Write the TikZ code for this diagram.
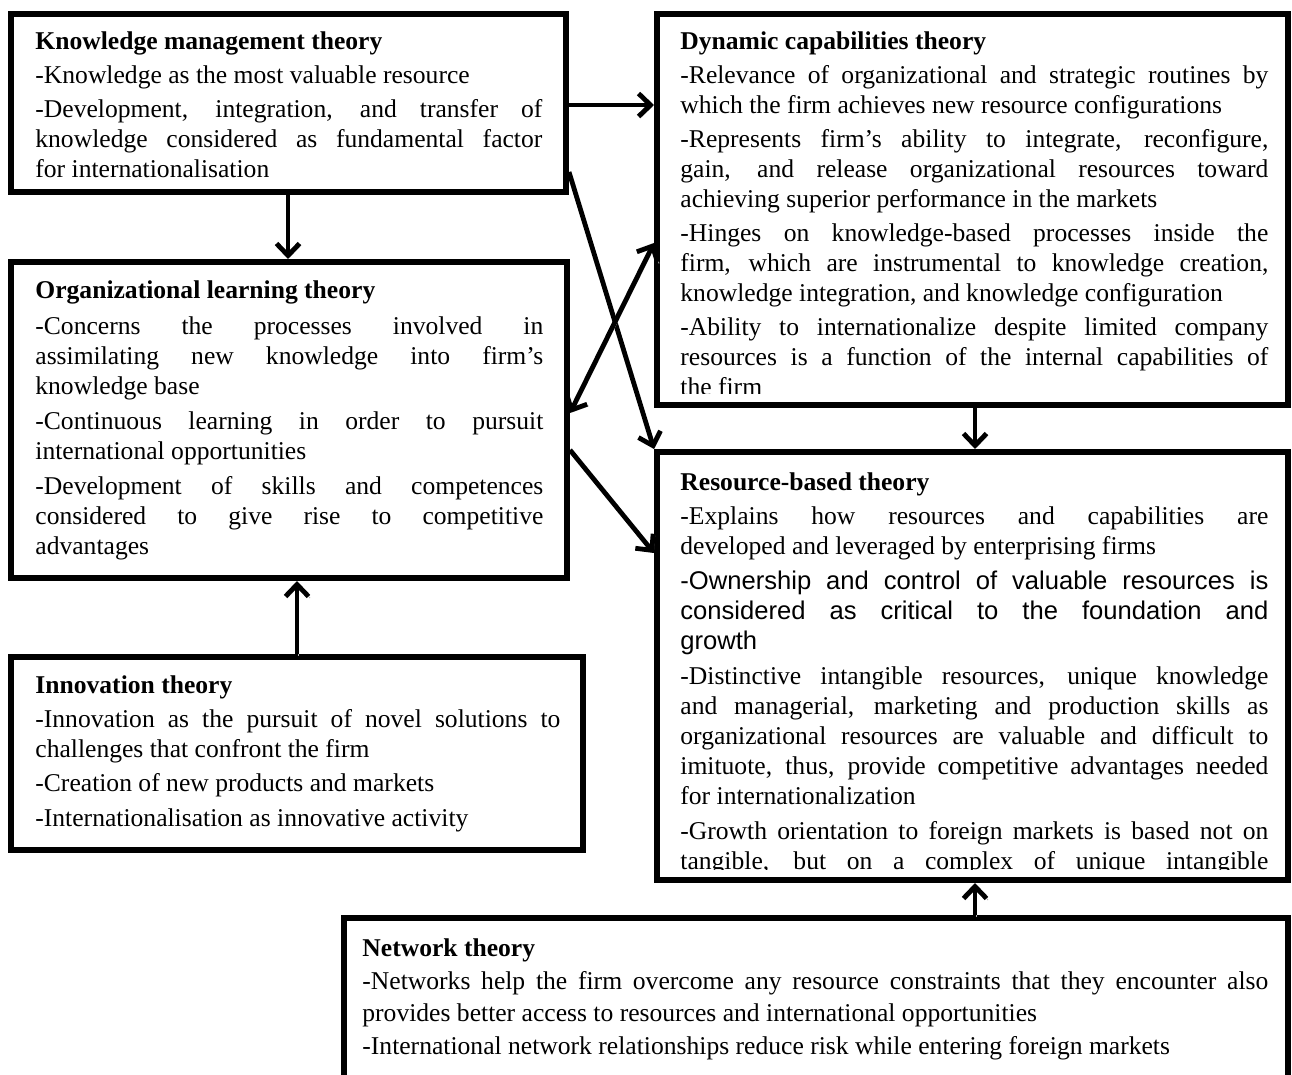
\documentclass[tikz,border=0pt]{standalone}
\usepackage{fontspec}
\setmainfont{Liberation Serif}
\setsansfont{Liberation Sans}
\usetikzlibrary{arrows.meta,fit}
\tolerance=10000 \hbadness=10000 \hfuzz=8pt
\newcommand{\boxtext}[3]{\parbox[t]{#1}{\setlength{\parskip}{#2}#3}}
\begin{document}
\begin{tikzpicture}[x=0.5pt,y=-0.5pt,
  box/.style={draw, line width=3pt, inner sep=0pt},
  txt/.style={inner sep=0pt, anchor=base west, font=\fontsize{12.8}{15}\selectfont},
  >={Straight Barb[length=6pt,width=11.5pt]},
  arr/.style={line width=2.4pt, preaction={draw=black!30, transform canvas={xshift=0.8pt,yshift=-0.8pt}}}]
\clip (0,0) rectangle (1292,1075);
\fill[white] (0,0) rectangle (1292,1075);
% boxes
\node[box, fit={(11,14)(566,192)}] (km) {};
\node[box, fit={(657,14)(1288,405)}] (dc) {};
\node[box, fit={(11,262)(567,578)}] (ol) {};
\node[box, fit={(11,657)(583,850)}] (in) {};
\node[box, fit={(657,452)(1288,880)}] (rb) {};
\node[box, fit={(344,918)(1288,1110)}] (nt) {};
% texts
\node[txt] (kmt) at (35,50) {\boxtext{253.5pt}{2pt}{%
\textbf{Knowledge management theory}\par
-Knowledge as the most valuable resource\par
-Development, integration, and transfer of\linebreak knowledge considered as fundamental factor\linebreak for internationalisation}};
\begin{scope}
\clip ([yshift=7pt]dc.south west) rectangle (dc.north east);
\node[txt] (dct) at (680,50) {\boxtext{294pt}{2pt}{%
\textbf{Dynamic capabilities theory}\par
-Relevance of organizational and strategic routines by\linebreak which the firm achieves new resource configurations\par
-Represents firm’s ability to integrate, reconfigure,\linebreak gain, and release organizational resources toward\linebreak achieving superior performance in the markets\par
-Hinges on knowledge-based processes inside the\linebreak firm, which are instrumental to knowledge creation,\linebreak knowledge integration, and knowledge configuration\par
-Ability to internationalize despite limited company\linebreak resources is a function of the internal capabilities of\linebreak the firm}};
\end{scope}
\node[txt] (olt) at (35,299) {\boxtext{254pt}{2.6pt}{%
\textbf{Organizational learning theory}\par
-Concerns the processes involved in\linebreak assimilating new knowledge into firm’s\linebreak knowledge base\par
-Continuous learning in order to pursuit\linebreak international opportunities\par
-Development of skills and competences\linebreak considered to give rise to competitive\linebreak advantages}};
\node[txt] (int) at (35,693) {\boxtext{262.5pt}{2.2pt}{%
\textbf{Innovation theory}\par
-Innovation as the pursuit of novel solutions to\linebreak challenges that confront the firm\par
-Creation of new products and markets\par
-Internationalisation as innovative activity}};
\begin{scope}
\clip ([yshift=7pt]rb.south west) rectangle (rb.north east);
\node[txt] (rbt) at (680,490) {\boxtext{294pt}{2.4pt}{%
\textbf{Resource-based theory}\par
-Explains how resources and capabilities are\linebreak developed and leveraged by enterprising firms\par
{\sffamily -Ownership and control of valuable resources is\linebreak considered as critical to the foundation and\linebreak growth\par}
-Distinctive intangible resources, unique knowledge\linebreak and managerial, marketing and production skills as\linebreak organizational resources are valuable and difficult to\linebreak imituote, thus, provide competitive advantages needed\linebreak for internationalization\par
-Growth orientation to foreign markets is based not on\linebreak tangible, but on a complex of unique intangible\linebreak\mbox{}}};
\end{scope}
\node[txt, font=\fontsize{12.8}{16}\selectfont] (ntt) at (362,956) {\boxtext{453pt}{0.5pt}{%
\textbf{Network theory}\par
-Networks help the firm overcome any resource constraints that they encounter also\linebreak provides better access to resources and international opportunities\par
-International network relationships reduce risk while entering foreign markets}};
% connectors
\draw[arr,->] (km.east |- 0,105) -- (dc.west |- 0,105);
\draw[arr,->] (km.south -| 288,0) -- (ol.north -| 288,0);
\draw[arr,->] (km.east |- 0,172) -- (rb.north west);
\draw[arr,<->] (ol.east |- 0,413) -- (dc.west |- 0,243);
\draw[arr,->] (ol.east |- 0,450) -- (rb.west |- 0,553);
\draw[arr,->] (dc.south -| 975,0) -- (rb.north -| 975,0);
\draw[arr,->] (in.north -| 297,0) -- (ol.south -| 297,0);
\draw[arr,->] (nt.north -| 975,0) -- (rb.south -| 975,0);
\end{tikzpicture}
\end{document}
